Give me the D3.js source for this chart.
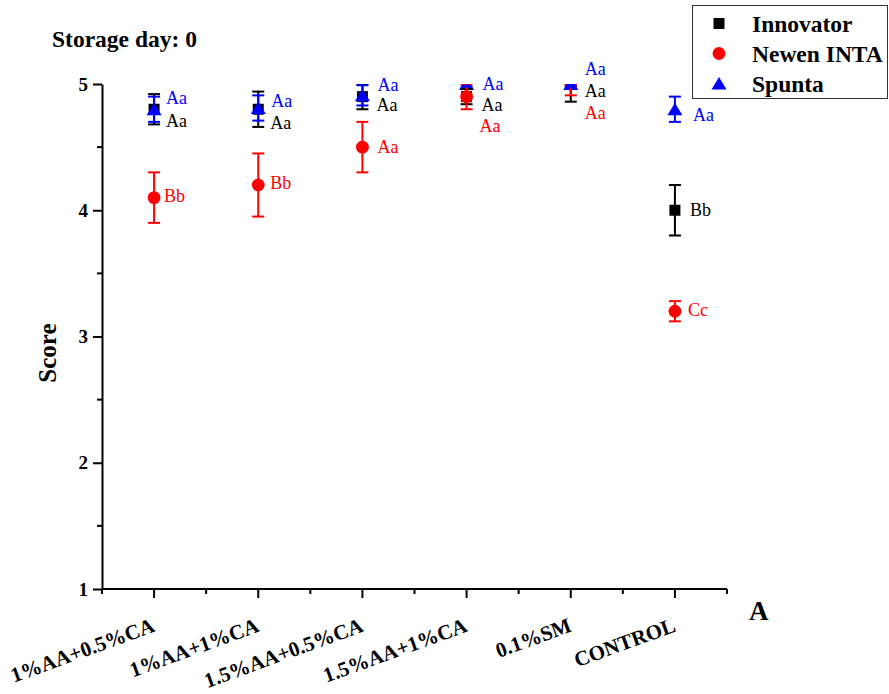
<!DOCTYPE html>
<html>
<head>
<meta charset="utf-8">
<script src="https://cdn.jsdelivr.net/npm/d3@7"></script>
<style>
    body { margin: 0; background: #fff; }
</style>
</head>
<body>
<svg id="svg" width="889" height="694"></svg>
<script>
"use strict";

// treatments on the x axis
const categories = ["1%AA+0.5%CA", "1%AA+1%CA", "1.5%AA+0.5%CA", "1.5%AA+1%CA", "0.1%SM", "CONTROL"];
const seriesNames = ["Innovator", "Newen INTA", "Spunta"];

// mean score and error per treatment
const innovatorMeans  = [4.8, 4.8, 4.9, 4.9, 5.0, 4.0];
const innovatorErrors = [0.12, 0.14, 0.1, 0.06, 0.14, 0.2];
const newenMeans      = [4.1, 4.2, 4.5, 4.9, 5.0, 3.2];
const newenErrors     = [0.2, 0.25, 0.2, 0.1, 0.09, 0.08];
const spuntaMeans     = [4.8, 4.81, 4.91, 5.0, 5.0, 4.8];
const spuntaErrors    = [0.1, 0.1, 0.08, 0.02, 0.02, 0.1];

// significance letters
const innovatorLetters = ["Aa", "Aa", "Aa", "Aa", "Aa", "Bb"];
const newenLetters     = ["Bb", "Bb", "Aa", "Aa", "Aa", "Cc"];
const spuntaLetters    = ["Aa", "Aa", "Aa", "Aa", "Aa", "Aa"];

const yTicks = [1, 2, 3, 4, 5];

const margin = { left: 102, right: 727, top: 84, bottom: 589 };
const colors = ["#000000", "#ff0000", "#0000ff"];
const shapes = ["square", "circle", "triangle"];
const serif = "'Liberation Serif', 'Times New Roman', serif";

var svg = d3.select("svg")
    .attr("font-family", serif);

var series = [
    { name: seriesNames[0], means: innovatorMeans, errors: innovatorErrors, letters: innovatorLetters },
    { name: seriesNames[1], means: newenMeans, errors: newenErrors, letters: newenLetters },
    { name: seriesNames[2], means: spuntaMeans, errors: spuntaErrors, letters: spuntaLetters }
];
series.forEach((s, i) => { s.color = colors[i]; s.shape = shapes[i]; });

var x = d3.scaleBand()
    .domain(categories)
    .range([margin.left, margin.right]);

var y = d3.scaleLinear()
    .domain([1, 5])
    .range([margin.bottom, margin.top]);

function cx(c) { return x(c) + x.bandwidth() / 2; }

function markerPath(shape)
{
    if (shape === "square") {
        return "M-5.5,-5.5h11v11h-11Z";
    }
    if (shape === "triangle") {
        return "M0,-6.5L7.5,6L-7.5,6Z";
    }
    return "M6.4,0A6.4,6.4 0 1,1 -6.4,0A6.4,6.4 0 1,1 6.4,0Z";
}

svg.append("rect")
    .attr("width", 889)
    .attr("height", 694)
    .attr("fill", "#fff");

svg.append("clipPath")
    .attr("id", "plot-clip")
    .append("rect")
        .attr("x", margin.left - 20)
        .attr("y", margin.top)
        .attr("width", margin.right - margin.left + 40)
        .attr("height", margin.bottom - margin.top);

// y axis with half-unit minor ticks
var yAxis = svg.append("g")
    .attr("transform", "translate(" + margin.left + ",0)")
    .call(d3.axisLeft(y).tickValues(yTicks).tickSize(9).tickSizeOuter(0).tickPadding(5).tickFormat(d3.format("d")));
yAxis.attr("font-family", serif);
yAxis.selectAll("text")
    .attr("font-size", 19)
    .attr("font-weight", "bold");
yAxis.append("g")
    .selectAll("line")
    .data([1.5, 2.5, 3.5, 4.5])
    .enter()
    .append("line")
        .attr("x1", -5)
        .attr("x2", 0)
        .attr("y1", d => y(d))
        .attr("y2", d => y(d))
        .attr("stroke", "#000");

// x axis: major ticks at treatments, minor ticks between them
var xAxis = svg.append("g")
    .attr("transform", "translate(0," + margin.bottom + ")");
xAxis.append("line")
    .attr("x1", margin.left)
    .attr("x2", margin.right)
    .attr("stroke", "#000");
xAxis.selectAll(".major")
    .data(categories)
    .enter()
    .append("line")
        .attr("class", "major")
        .attr("x1", d => cx(d))
        .attr("x2", d => cx(d))
        .attr("y2", 9)
        .attr("stroke", "#000");
xAxis.selectAll(".minor")
    .data(categories.map(c => x(c)).concat([margin.right]))
    .enter()
    .append("line")
        .attr("class", "minor")
        .attr("x1", d => d)
        .attr("x2", d => d)
        .attr("y2", 5)
        .attr("stroke", "#000");
xAxis.selectAll(".label")
    .data(categories)
    .enter()
    .append("text")
        .attr("class", "label")
        .attr("transform", d => "translate(" + (cx(d) + 2) + ",42) rotate(-20)")
        .attr("text-anchor", "end")
        .attr("font-size", 21)
        .attr("font-weight", "bold")
        .text(d => d);

svg.selectAll(".domain, .tick line, g line")
    .attr("stroke-width", 2);

svg.append("text")
    .attr("transform", "translate(56,353) rotate(-90)")
    .attr("text-anchor", "middle")
    .attr("font-size", 25)
    .attr("font-weight", "bold")
    .text("Score");

svg.append("text")
    .attr("x", 52)
    .attr("y", 47)
    .attr("font-size", 23.5)
    .attr("font-weight", "bold")
    .text("Storage day: 0");

svg.append("text")
    .attr("x", 749)
    .attr("y", 620)
    .attr("font-size", 27)
    .attr("font-weight", "bold")
    .text("A");

// markers first, error bars over them
var plot = svg.append("g").attr("clip-path", "url(#plot-clip)");

series.forEach(s => {
    plot.append("g")
        .selectAll("path")
        .data(categories.map((c, i) => ({ c: c, v: s.means[i] })))
        .enter()
        .append("path")
            .attr("d", markerPath(s.shape))
            .attr("transform", d => "translate(" + cx(d.c) + "," + y(d.v) + ")")
            .attr("fill", s.color);
});

series.forEach(s => {
    var bars = plot.append("g")
        .attr("stroke", s.color)
        .attr("stroke-width", 2)
        .selectAll("g")
        .data(categories.map((c, i) => ({ c: c, lo: s.means[i] - s.errors[i], hi: s.means[i] + s.errors[i] })))
        .enter()
        .append("g");
    bars.append("line")
        .attr("x1", d => cx(d.c))
        .attr("x2", d => cx(d.c))
        .attr("y1", d => y(d.lo))
        .attr("y2", d => y(d.hi));
    bars.selectAll(".cap")
        .data(d => [{ c: d.c, v: d.lo }, { c: d.c, v: d.hi }])
        .enter()
        .append("line")
            .attr("class", "cap")
            .attr("x1", d => cx(d.c) - 6)
            .attr("x2", d => cx(d.c) + 6)
            .attr("y1", d => y(d.v))
            .attr("y2", d => y(d.v));
});

// letter placement around each marker, [dx, dy] in pixels
var labelNudge = [
    [[12, 11], [12, 13], [14, 8], [15, 8], [14, 7], [15, -1]],
    [[10, -2], [12, -2], [15, 0], [13, 29], [14, 29], [13, -2]],
    [[12, -12], [13, -7], [15, -11], [16, 0], [14, -15], [18, 5]]
];

series.forEach((s, k) => {
    svg.append("g")
        .attr("fill", s.color)
        .attr("font-size", 18)
        .selectAll("text")
        .data(categories.map((c, i) => ({ c: c, v: s.means[i], t: s.letters[i], n: labelNudge[k][i] })))
        .enter()
        .append("text")
            .attr("x", d => cx(d.c) + d.n[0])
            .attr("y", d => y(d.v) + d.n[1])
            .attr("dy", "0.35em")
            .text(d => d.t);
});

// legend
var legend = svg.append("g");
legend.append("rect")
    .attr("x", 692.5)
    .attr("y", 5.5)
    .attr("width", 195)
    .attr("height", 93)
    .attr("fill", "#fff")
    .attr("stroke", "#333")
    .attr("stroke-width", 1);

var item = legend.selectAll(".item")
    .data(series)
    .enter()
    .append("g")
        .attr("class", "item")
        .attr("transform", (d, i) => "translate(719," + (23.5 + i * 30) + ")");
item.append("path")
    .attr("d", d => markerPath(d.shape))
    .attr("fill", d => d.color);
item.append("text")
    .attr("x", 33)
    .attr("y", 8)
    .attr("font-size", 23.5)
    .attr("font-weight", "bold")
    .text(d => d.name);
</script>
</body>
</html>
